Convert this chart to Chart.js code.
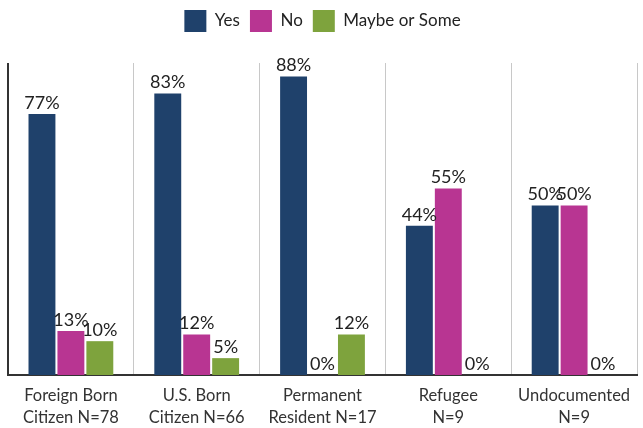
<!DOCTYPE html>
<html>
<head>
<meta charset="utf-8">
<script src="https://cdn.jsdelivr.net/npm/chart.js@4/dist/chart.umd.min.js"></script>
<style>
  html, body { margin: 0; padding: 0; background: #fff; }
  #wrap { width: 643px; height: 428px; position: relative; }
</style>
</head>
<body>
<div id="wrap"><canvas id="chart"></canvas></div>
<script>
// Data
const categories = [
    ['Foreign Born', 'Citizen N=78'],
    ['U.S. Born', 'Citizen N=66'],
    ['Permanent', 'Resident N=17'],
    ['Refugee', 'N=9'],
    ['Undocumented', 'N=9']
];
const seriesNames = ['Yes', 'No', 'Maybe or Some'];
const yesValues = [77, 83, 88, 44, 50];
const noValues = [13, 12, 0, 55, 50];
const maybeValues = [10, 5, 12, 0, 0];
const seriesColors = ['#1f416b', '#b83592', '#7ea33d'];

const fontFamily = 'Lato, "Open Sans", sans-serif';

// Draw the percent labels above each bar
const valueLabels = {
    id: 'valueLabels',
    afterDatasetsDraw(chart) {
        const ctx = chart.ctx;
        ctx.save();
        ctx.font = '18px ' + fontFamily;
        ctx.fillStyle = '#222';
        ctx.textAlign = 'center';
        ctx.textBaseline = 'bottom';
        chart.data.datasets.forEach(function(ds, di) {
            const meta = chart.getDatasetMeta(di);
            meta.data.forEach(function(bar, i) {
                ctx.fillText(ds.data[i] + '%', bar.x, bar.y - 2);
            });
        });
        ctx.restore();
    }
};

// Extra room under the legend
const legendGap = {
    id: 'legendGap',
    afterInit(chart) {
        const legend = chart.legend;
        if (!legend) return;
        const fit = legend.fit;
        legend.fit = function() {
            fit.call(this);
            this.height += 21;
        };
    }
};

const config = {
    type: 'bar',
    data: {
        labels: categories,
        datasets: [
            { label: seriesNames[0], data: yesValues, backgroundColor: seriesColors[0] },
            { label: seriesNames[1], data: noValues, backgroundColor: seriesColors[1] },
            { label: seriesNames[2], data: maybeValues, backgroundColor: seriesColors[2] }
        ]
    },
    options: {
        responsive: true,
        maintainAspectRatio: false,
        animation: false,
        devicePixelRatio: 1,
        categoryPercentage: 0.69,
        barPercentage: 0.93,
        layout: { padding: { left: 8, right: 6, top: 0, bottom: 3 } },
        plugins: {
            legend: {
                position: 'top',
                labels: {
                    boxWidth: 22,
                    boxHeight: 22,
                    padding: 10,
                    color: '#222',
                    font: { family: fontFamily, size: 17 }
                }
            },
            tooltip: { enabled: false }
        },
        scales: {
            x: {
                afterFit: function(scale) { scale.height -= 13; },
                grid: {
                    offset: true,
                    drawTicks: false,
                    lineWidth: function(c) { return (c.index === 0 || c.index === 5) ? 2 : 1; },
                    color: function(c) { return (c.index === 0 || c.index === 5) ? '#333' : '#c8c8c8'; }
                },
                border: { display: true, color: '#333', width: 2 },
                ticks: {
                    color: '#333',
                    padding: 10,
                    font: { family: fontFamily, size: 16.5, lineHeight: 1.3 },
                    maxRotation: 0,
                    autoSkip: false
                }
            },
            y: {
                display: false,
                min: 0,
                max: 92
            }
        }
    },
    plugins: [valueLabels, legendGap]
};

new Chart(document.getElementById('chart'), config);
</script>
</body>
</html>
